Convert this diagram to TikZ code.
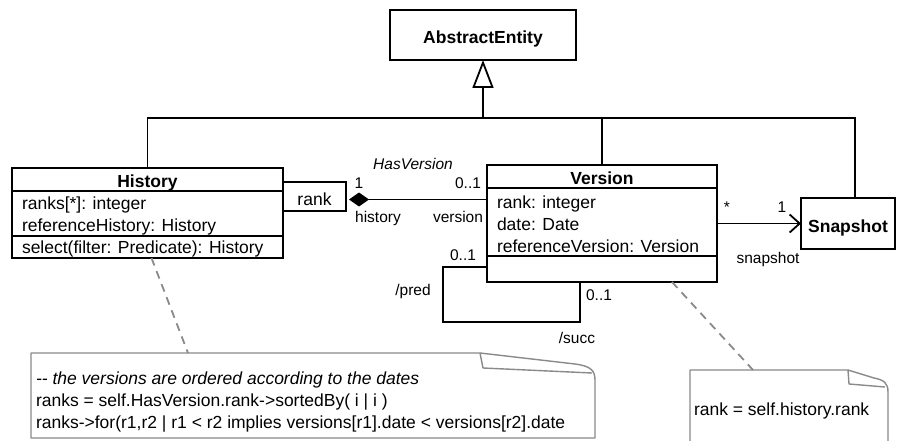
\documentclass[tikz,border=0pt]{standalone}
\usepackage{fontspec}
\setmainfont{Liberation Sans}
\usetikzlibrary{arrows.meta}
\definecolor{notegray}{HTML}{8A8A8A}
\tikzset{
  classbox/.style={draw=black, line width=1.8pt, fill=white, anchor=north west, inner sep=0pt, outer sep=0pt},
  txt/.style={inner sep=0pt, outer sep=0pt, font=\fontsize{17.5}{21}\selectfont, anchor=base west},
  ctxt/.style={txt, anchor=base},
  btxt/.style={inner sep=0pt, outer sep=0pt, font=\fontsize{17.5}{21}\selectfont\bfseries, anchor=base},
  lbl/.style={inner sep=0pt, outer sep=0pt, font=\fontsize{15.5}{18}\selectfont, anchor=base},
  conn/.style={line width=1.8pt, draw=black},
  divider/.style={line width=1.8pt, draw=black},
  gen/.style={conn, -{Triangle[open, length=28pt, width=21pt, fill=white]}},
  nav/.style={conn, -{Straight Barb[length=10pt, width=18pt]}},
  comp/.style={conn, {Diamond[length=20pt, width=14pt]}-},
  noteline/.style={line width=1.4pt, draw=notegray, line join=round},
  notelink/.style={line width=1.8pt, draw=notegray, dash pattern=on 8pt off 6pt}
}
\begin{document}
\begin{tikzpicture}[x=1pt, y=-1pt]
\useasboundingbox (0,0) rectangle (897,441);
\clip (0,0) rectangle (897,441);
\fill[white] (0,0) rectangle (897,441);

% ---------- notes ----------
\draw[noteline, fill=white] (31,438) -- (31,353) -- (480,353) -- (575,364)
  .. controls (590,366) and (595,370) .. (595,380) -- (595,438) -- cycle;
\draw[noteline] (480,353) -- (483,368) -- (592,373);
\coordinate (n1top) at (188,353);
\node[txt, font=\fontsize{17.5}{21}\selectfont\itshape] (n1l1) at (36,384) {-{}- the versions are ordered according to the dates};
\node[txt] (n1l2) at (36,406) {ranks = self.HasVersion.rank->sortedBy( i | i )};
\node[txt] (n1l3) at (36,428) {ranks->for(r1,r2 | r1 < r2 implies versions[r1].date < versions[r2].date};

\draw[noteline, fill=white] (690,450) -- (690,370) -- (848,370) -- (874,378)
  .. controls (884,380) and (888,383) .. (888,392) -- (888,450);
\draw[noteline] (848,370) -- (849,384) -- (885,387);
\coordinate (n2top) at (753,370);
\node[txt] (n2l1) at (694,415) {rank = self.history.rank};

% ---------- classes ----------
\node[classbox, minimum width=186pt, minimum height=50pt] (ae) at (390,10) {};
\node[btxt] (aet) at (483,44) {AbstractEntity};

\node[classbox, minimum width=271pt, minimum height=90pt] (history) at (12,168) {};
\draw[divider] ([yshift=-23pt]history.north west) -- ([yshift=-23pt]history.north east);
\draw[divider] ([yshift=-68pt]history.north west) -- ([yshift=-68pt]history.north east);
\node[btxt] (ht) at (147.5,187) {History};
\node[txt] (ha1) at (22,209) {ranks[*]: integer};
\node[txt] (ha2) at (22,231) {referenceHistory: History};
\node[txt] (ho1) at (22,253) {select(filter: Predicate): History};

\node[classbox, minimum width=63pt, minimum height=29pt] (rankbox) at (283,182) {};
\node[ctxt] (rankt) at (314.5,205) {rank};

\node[classbox, minimum width=230pt, minimum height=117pt] (version) at (487,165) {};
\draw[divider] ([yshift=-23pt]version.north west) -- ([yshift=-23pt]version.north east);
\draw[divider] ([yshift=-91pt]version.north west) -- ([yshift=-91pt]version.north east);
\node[btxt] (vt) at (602,185) {Version};
\node[txt] (va1) at (497,208) {rank: integer};
\node[txt] (va2) at (497,230) {date: Date};
\node[txt] (va3) at (497,252) {referenceVersion: Version};

\node[classbox, minimum width=94pt, minimum height=51pt] (snapshot) at (801,198) {};
\node[btxt] (st) at (848,232) {Snapshot};

% ---------- connectors ----------
\coordinate (junction) at (483,118);
\draw[gen] (junction) -- (junction |- ae.south);
\draw[conn] (history.north) |- ([xshift=7pt]snapshot.north |- junction) -- ([xshift=7pt]snapshot.north);
\draw[conn] (version.north) -- (version.north |- junction);

\draw[comp] ([xshift=3pt,yshift=-3pt]rankbox.east) -- ([yshift=-3pt]rankbox.east -| version.west);
\draw[nav] (version.east |- snapshot.west) -- (snapshot.west);

\coordinate (loopcorner) at (443,322);
\draw[conn] ([yshift=-43.5pt]version.west) -| (loopcorner) -| ([xshift=-22pt]version.south);

\draw[notelink] ([xshift=4pt]history.south) -- (n1top);
\draw[notelink] ([xshift=70pt]version.south) -- (n2top);

% ---------- labels ----------
\node[lbl, font=\fontsize{15.5}{18}\selectfont\itshape] (hasv) at (413,170) {HasVersion};
\node[lbl] (m1) at (359,188) {1};
\node[lbl] (rhist) at (378,222) {history};
\node[lbl] (m01) at (468,188) {0..1};
\node[lbl] (rver) at (458,222) {version};
\node[lbl] (mstar) at (727,212) {*};
\node[lbl] (m1s) at (782,212) {1};
\node[lbl] (rsnap) at (768,263) {snapshot};
\node[lbl] (mpred) at (463,260) {0..1};
\node[lbl] (rpred) at (413,295) {/pred};
\node[lbl] (msucc) at (599,300) {0..1};
\node[lbl] (rsucc) at (577,343) {/succ};
\end{tikzpicture}
\end{document}
